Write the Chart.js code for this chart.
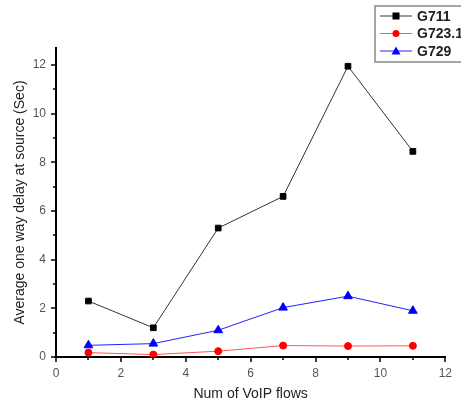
<!DOCTYPE html>
<html>
<head>
<meta charset="utf-8">
<script src="https://cdn.jsdelivr.net/npm/chart.js@4"></script>
<style>
  html, body { margin: 0; padding: 0; background: #fff; }
  #wrap { width: 461px; height: 403px; }
</style>
</head>
<body>
<div id="wrap"><canvas id="myChart" width="461" height="403"></canvas></div>
<script>
// number of VoIP flows on the x axis
var flows = [1, 3, 5, 7, 9, 11];

// average one way delay per codec (sec)
var G711 = [2.3, 1.2, 5.3, 6.6, 11.95, 8.45];
var G723 = [0.18, 0.1, 0.24, 0.47, 0.45, 0.46];
var G729 = [0.48, 0.55, 1.1, 2.03, 2.5, 1.9];

function pts(vals) {
  return vals.map(function (v, i) { return { x: flows[i], y: v }; });
}

// outward major/minor tick marks on both axes
var tickMarks = {
  id: 'tickMarks',
  afterDraw: function (chart) {
    var ctx = chart.ctx, xs = chart.scales.x, ys = chart.scales.y;
    var a = chart.chartArea;
    ctx.save();
    ctx.strokeStyle = '#000';
    ctx.lineWidth = 1.5;
    for (var v = 0; v <= 12; v++) {
      var len = v % 2 === 0 ? 5 : 3;
      var px = Math.round(xs.getPixelForValue(v));
      ctx.beginPath(); ctx.moveTo(px, a.bottom); ctx.lineTo(px, a.bottom + len); ctx.stroke();
      var py = Math.round(ys.getPixelForValue(v));
      ctx.beginPath(); ctx.moveTo(a.left, py); ctx.lineTo(a.left - len, py); ctx.stroke();
    }
    ctx.restore();
  }
};

// boxed legend in the top right corner
var boxLegend = {
  id: 'boxLegend',
  afterDraw: function (chart) {
    var ctx = chart.ctx;
    var x0 = 375, y0 = 6, w = 100, h = 56, rowH = 17.5;
    ctx.save();
    ctx.fillStyle = '#fff';
    ctx.fillRect(x0, y0, w, h);
    ctx.strokeStyle = '#888';
    ctx.lineWidth = 1.5;
    ctx.strokeRect(x0, y0, w, h);
    chart.data.datasets.forEach(function (ds, i) {
      var y = y0 + 10 + i * rowH;
      ctx.strokeStyle = ds.borderColor;
      ctx.lineWidth = 1;
      ctx.beginPath(); ctx.moveTo(x0 + 5, y); ctx.lineTo(x0 + 37, y); ctx.stroke();
      ctx.fillStyle = ds.pointBackgroundColor;
      var cx = x0 + 21;
      ctx.beginPath();
      if (ds.pointStyle === 'rect') {
        ctx.rect(cx - 3.5, y - 3.5, 7, 7);
      } else if (ds.pointStyle === 'triangle') {
        ctx.moveTo(cx, y - 4.5); ctx.lineTo(cx + 4.5, y + 3.5); ctx.lineTo(cx - 4.5, y + 3.5); ctx.closePath();
      } else {
        ctx.arc(cx, y, 3.5, 0, Math.PI * 2);
      }
      ctx.fill();
      ctx.fillStyle = '#222';
      ctx.font = 'bold 14px "Liberation Sans", Arial, sans-serif';
      ctx.textBaseline = 'middle';
      ctx.fillText(ds.label, x0 + 42, y + 1);
    });
    ctx.restore();
  }
};

var tickFont = { family: '"Liberation Sans", Arial, sans-serif', size: 12 };
var titleFont = { family: '"Liberation Sans", Arial, sans-serif', size: 14 };

new Chart(document.getElementById('myChart'), {
  type: 'line',
  data: {
    datasets: [
      {
        label: 'G711', data: pts(G711),
        borderColor: '#333', borderWidth: 1,
        pointStyle: 'rect', pointRadius: 4,
        pointBackgroundColor: '#000', pointBorderColor: '#000'
      },
      {
        label: 'G723.1', data: pts(G723),
        borderColor: '#f55', borderWidth: 1,
        pointStyle: 'circle', pointRadius: 3.5,
        pointBackgroundColor: '#f00', pointBorderColor: '#f00'
      },
      {
        label: 'G729', data: pts(G729),
        borderColor: '#22f', borderWidth: 1,
        pointStyle: 'triangle', pointRadius: 5,
        pointBackgroundColor: '#00f', pointBorderColor: '#00f'
      }
    ]
  },
  options: {
    responsive: false,
    animation: false,
    layout: { padding: { top: 48, right: 14, left: 0, bottom: 0 } },
    plugins: { legend: { display: false }, tooltip: { enabled: false } },
    scales: {
      x: {
        type: 'linear', min: 0, max: 12,
        grid: { display: false, drawTicks: false },
        border: { display: true, color: '#000', width: 2 },
        ticks: { stepSize: 2, padding: 9, color: '#555', font: tickFont, maxRotation: 0 },
        title: { display: true, text: 'Num of VoIP flows', color: '#222', font: titleFont, padding: { top: 0, bottom: 0 } },
        afterFit: function (s) { s.height = 46; }
      },
      y: {
        type: 'linear', min: 0, max: 12.7,
        grid: { display: false, drawTicks: false },
        border: { display: true, color: '#000', width: 2 },
        ticks: { stepSize: 2, padding: 10, color: '#555', font: tickFont, includeBounds: false },
        title: { display: true, text: 'Average one way delay at source (Sec)', color: '#222', font: titleFont, padding: { top: 12, bottom: 0 } },
        afterFit: function (s) { s.width = 56; }
      }
    }
  },
  plugins: [tickMarks, boxLegend]
});
</script>
</body>
</html>
